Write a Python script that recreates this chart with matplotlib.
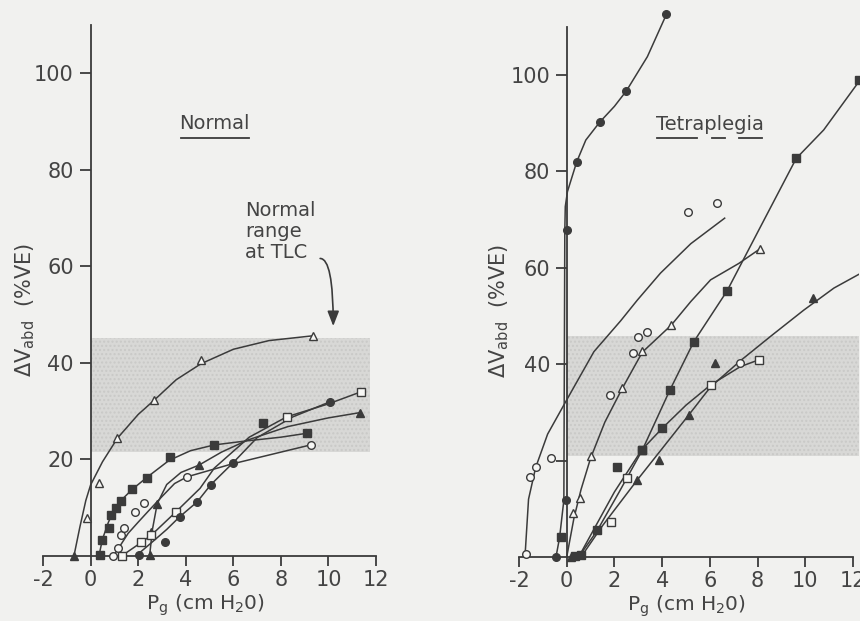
import matplotlib.pyplot as plt
from matplotlib.patches import Rectangle

plt.rcParams['font.family'] = ['DejaVu Sans']
plt.rcParams['axes.unicode_minus'] = False
plt.rcParams['mathtext.default'] = 'regular'

INK = '#3b3b3b'
PAPER = '#f1f1ef'
BAND = '#d8d8d6'
TXT = '#444444'

x_ticks = [-2, 0, 2, 4, 6, 8, 10, 12]
y_ticks = [20, 40, 60, 80, 100]
left_ylabels = ['20', '40', '60', '80', '100']
right_ylabels = ['', '40', '60', '80', '100']

# normal range at TLC (shaded band): x0, x1, y0, y1
n_band = [0, 11.76, 21.5, 45.2]
t_band = [0, 12.4, 21.0, 45.8]

# ---------------- Normal ----------------
# open triangles
n_tri_o_x = [-0.17, 0.35, 1.13, 2.66, 4.64, 9.36]
n_tri_o_y = [7.9, 15.1, 24.4, 32.2, 40.6, 45.6]
n_tri_o_cx = [-0.7, -0.45, -0.2, 0, 0.5, 1.13, 2.0, 2.66, 3.6, 4.64, 6.0, 7.5, 9.36]
n_tri_o_cy = [0, 6, 11.5, 14.7, 19.5, 24.4, 29.3, 32.2, 36.5, 39.8, 42.8, 44.6, 45.6]
# filled squares
n_sq_f_x = [0.39, 0.49, 0.78, 0.85, 1.06, 1.27, 1.74, 2.37, 3.32, 5.2, 9.08, 7.25]
n_sq_f_y = [0.2, 3.3, 5.9, 8.5, 9.9, 11.4, 13.8, 16.1, 20.4, 23.0, 25.5, 27.6]
n_sq_f_cx = [0.35, 0.5, 0.75, 1.0, 1.3, 1.75, 2.4, 3.3, 4.2, 5.2, 6.5, 8.0, 9.08]
n_sq_f_cy = [0, 3.5, 7.0, 9.6, 11.6, 13.8, 16.4, 19.8, 21.8, 23.0, 23.8, 24.6, 25.4]
# open circles
n_ci_o_x = [0.95, 1.16, 1.27, 1.41, 1.85, 2.24, 4.06, 9.25]
n_ci_o_y = [0, 1.6, 4.3, 5.7, 9.2, 11.0, 16.4, 23.0]
n_ci_o_cx = [0.95, 1.2, 1.58, 2.0, 2.41, 3.0, 3.53, 4.06, 5.9, 9.25]
n_ci_o_cy = [0, 1.8, 4.7, 7.0, 9.2, 12.3, 15.0, 16.4, 19.0, 23.0]
# filled triangles
n_tri_f_x = [-0.7, 2.48, 2.55, 2.78, 4.55, 11.34]
n_tri_f_y = [0, 0.2, 5.0, 10.8, 18.8, 29.7]
n_tri_f_cx = [2.48, 2.6, 2.8, 3.2, 3.8, 4.55, 5.5, 6.6, 8.3, 10.0, 11.34]
n_tri_f_cy = [0, 5.5, 10.8, 14.8, 17.3, 18.8, 21.5, 24.0, 26.8, 28.6, 29.7]
# open squares
n_sq_o_x = [1.3, 2.13, 2.55, 3.6, 8.24, 11.37]
n_sq_o_y = [0, 2.8, 4.3, 9.2, 28.8, 34.0]
n_sq_o_cx = [1.3, 2.13, 2.55, 3.6, 4.6, 5.2, 6.67, 8.24, 10.0, 11.37]
n_sq_o_cy = [0, 2.8, 4.3, 9.2, 14.0, 18.2, 24.6, 28.8, 31.5, 34.0]
# filled circles
n_ci_f_x = [2.02, 3.11, 3.74, 4.48, 5.06, 5.97, 10.05]
n_ci_f_y = [0.2, 2.8, 8.1, 11.2, 14.8, 19.2, 31.9]
n_ci_f_cx = [1.9, 2.5, 3.2, 3.74, 4.48, 5.06, 5.97, 7.0, 8.5, 10.05]
n_ci_f_cy = [0, 2.5, 5.5, 8.1, 11.2, 14.8, 19.2, 24.5, 28.8, 31.9]

# ---------------- Tetraplegia ----------------
# filled circles (steep, top)
t_ci_f_x = [-0.45, -0.05, 0.0, 0.42, 1.38, 2.5, 4.18]
t_ci_f_y = [0, 11.8, 67.8, 82.0, 90.2, 96.7, 112.6]
t_ci_f_cx = [-0.45, -0.3, -0.12, -0.1, -0.08, -0.06, 0.03, 0.42, 0.8, 1.38, 2.0, 2.5, 3.38, 4.18]
t_ci_f_cy = [0, 4, 11.8, 40, 67.8, 72.7, 75.8, 82, 86.5, 90.2, 93.5, 96.7, 103.8, 112.6]
t_sq_extra_x = [-0.25]
t_sq_extra_y = [4.2]
# open circles
t_ci_o_x = [-1.72, -1.54, -1.3, -0.67, 1.81, 2.77, 2.98, 3.37, 5.07, 6.28]
t_ci_o_y = [0.6, 16.5, 18.6, 20.5, 33.6, 42.4, 45.7, 46.6, 71.6, 73.5]
t_ci_o_cx = [-1.75, -1.6, -1.3, -0.8, 0, 1.14, 2.26, 2.96, 3.93, 5.2, 6.62]
t_ci_o_cy = [0, 12, 18.6, 25.5, 32.6, 42.6, 49, 53.3, 58.9, 65, 70.3]
# open triangles
t_tri_o_x = [0.28, 0.56, 1.0, 2.33, 3.17, 4.38, 8.12]
t_tri_o_y = [9.1, 12.2, 21.0, 35.0, 42.8, 48.1, 64.0]
t_tri_o_cx = [0, 0.3, 0.6, 1.0, 1.6, 2.33, 3.17, 4.38, 5.2, 6.03, 7.21, 8.12]
t_tri_o_cy = [0, 8, 14, 20.5, 28, 35, 42.5, 48.1, 53.0, 57.5, 60.9, 64]
# filled squares (steep)
t_sq_f_x = [0.35, 0.6, 1.28, 2.12, 3.17, 4.32, 5.33, 6.72, 9.62, 12.25]
t_sq_f_y = [0.2, 0.5, 5.5, 18.6, 22.2, 34.6, 44.7, 55.2, 82.7, 99.0]
t_sq_f_cx = [0.5, 1.28, 2.2, 3.17, 4.32, 5.33, 6.72, 8.12, 9.62, 10.77, 12.3]
t_sq_f_cy = [0, 5.5, 13.5, 22.2, 34.6, 44.7, 55.2, 68.5, 82.7, 88.6, 99]
# squares (less steep)
t_sq2_f_x = [3.14, 4.0]
t_sq2_f_y = [22.2, 26.7]
t_sq_o_x = [1.84, 2.54, 6.03, 8.05]
t_sq_o_y = [7.3, 16.3, 35.7, 40.9]
t_sq_o_cx = [0.5, 1.0, 2.0, 3.14, 4.0, 5.0, 6.03, 7.28, 8.05]
t_sq_o_cy = [0, 4.5, 13.5, 22.2, 26.7, 31.5, 35.7, 39.5, 40.9]
t_half_x = [7.28]
t_half_y = [40.2]
# filled triangles
t_tri_f_x = [0.2, 2.96, 3.86, 5.12, 6.23, 10.32]
t_tri_f_y = [0, 16.0, 20.1, 29.5, 40.2, 53.7]
t_tri_f_cx = [0.6, 1.5, 2.96, 4.0, 5.12, 6.03, 7.3, 8.6, 9.93, 11.2, 12.3]
t_tri_f_cy = [0, 6.5, 16, 22.5, 29.5, 35.3, 40.8, 46, 51.2, 55.8, 58.8]


def curve(ax, x, y):
    ax.plot(x, y, color=INK, lw=1.1, zorder=3, clip_on=True)


def marks(ax, x, y, m, filled, ms=5.5):
    fc = INK if filled else '#f7f7f5'
    ax.plot(x, y, ls='none', marker=m, ms=ms, mfc=fc, mec=INK, mew=1.0,
            zorder=4, clip_on=False)


def setup(ax, band, ylabels, xmax):
    ax.set_facecolor('none')
    ax.set_xlim(-2, xmax)
    ax.set_ylim(0, 113)
    for s in ['top', 'right']:
        ax.spines[s].set_visible(False)
    ax.spines['left'].set_position(('data', 0))
    ax.spines['left'].set_bounds(0, 110)
    ax.spines['bottom'].set_bounds(-2, 12)
    for s in ['left', 'bottom']:
        ax.spines[s].set_color(INK)
        ax.spines[s].set_linewidth(1.3)
    ax.set_xticks(x_ticks)
    ax.set_xticklabels([str(v) for v in x_ticks])
    ax.set_yticks(y_ticks)
    ax.set_yticklabels(ylabels)
    ax.tick_params(axis='both', colors=INK, labelcolor=TXT, width=1.3,
                   labelsize=15, pad=4)
    ax.tick_params(axis='x', length=7, pad=3)
    ax.tick_params(axis='y', length=8)
    ax.add_patch(Rectangle((band[0], band[2]), band[1] - band[0], band[3] - band[2],
                           facecolor=BAND, edgecolor='#c9c9c7', hatch='....',
                           lw=0, zorder=0))


fig = plt.figure(figsize=(8.6, 6.21), dpi=100)
fig.patch.set_facecolor(PAPER)

ylab = r'$\Delta$V$_{abd}$  (%VE)'
xlab = r'P$_{g}$ (cm H$_{2}$0)'

# ---- left panel ----
ax1 = fig.add_axes([43 / 860, 65 / 621, 14 * 23.79 / 860, 113 * 4.83 / 621])
setup(ax1, n_band, left_ylabels, 12)
curve(ax1, n_tri_o_cx, n_tri_o_cy)
curve(ax1, n_sq_f_cx, n_sq_f_cy)
curve(ax1, n_ci_o_cx, n_ci_o_cy)
curve(ax1, n_tri_f_cx, n_tri_f_cy)
curve(ax1, n_sq_o_cx, n_sq_o_cy)
curve(ax1, n_ci_f_cx, n_ci_f_cy)
marks(ax1, n_tri_o_x, n_tri_o_y, '^', False)
marks(ax1, n_sq_f_x, n_sq_f_y, 's', True)
marks(ax1, n_ci_o_x, n_ci_o_y, 'o', False)
marks(ax1, n_tri_f_x, n_tri_f_y, '^', True)
marks(ax1, n_sq_o_x, n_sq_o_y, 's', False)
marks(ax1, n_ci_f_x, n_ci_f_y, 'o', True)

ax1.text(-2.75, 51, ylab, rotation=90, ha='center', va='center', fontsize=15,
         color=TXT)
ax1.text(4.85, -7.6, xlab, ha='center', va='top', fontsize=14.5, color=TXT)
ax1.text(5.2, 89.5, 'Normal', ha='center', va='center', fontsize=14, color=TXT)
ax1.plot([3.8, 6.65], [86.6, 86.6], color=INK, lw=1.3)
ax1.text(6.5, 73.5, 'Normal\nrange\nat TLC', ha='left', va='top', fontsize=14,
         color=TXT, linespacing=1.15)
ax1.annotate('', xy=(10.2, 47.6), xytext=(9.65, 61.6),
             arrowprops=dict(arrowstyle='-|>,head_width=0.35,head_length=0.9',
                             connectionstyle='angle3,angleA=0,angleB=90',
                             color=INK, lw=1.2, shrinkA=0, shrinkB=0))

# ---- right panel ----
ax2 = fig.add_axes([519 / 860, 64 / 621, 14.25 * 23.86 / 860, 113 * 4.82 / 621])
setup(ax2, t_band, right_ylabels, 12.25)
curve(ax2, t_ci_f_cx, t_ci_f_cy)
curve(ax2, t_ci_o_cx, t_ci_o_cy)
curve(ax2, t_tri_o_cx, t_tri_o_cy)
curve(ax2, t_sq_f_cx, t_sq_f_cy)
curve(ax2, t_sq_o_cx, t_sq_o_cy)
curve(ax2, t_tri_f_cx, t_tri_f_cy)
marks(ax2, t_ci_f_x, t_ci_f_y, 'o', True)
marks(ax2, t_sq_extra_x, t_sq_extra_y, 's', True)
marks(ax2, t_ci_o_x, t_ci_o_y, 'o', False)
marks(ax2, t_tri_o_x, t_tri_o_y, '^', False)
marks(ax2, t_sq_f_x, t_sq_f_y, 's', True)
marks(ax2, t_sq2_f_x, t_sq2_f_y, 's', True)
marks(ax2, t_sq_o_x, t_sq_o_y, 's', False)
marks(ax2, t_half_x, t_half_y, 'o', False)
marks(ax2, t_tri_f_x, t_tri_f_y, '^', True)

ax2.text(-2.85, 51, ylab, rotation=90, ha='center', va='center', fontsize=15,
         color=TXT)
ax2.text(5.03, -7.6, xlab, ha='center', va='top', fontsize=14.5, color=TXT)
ax2.text(6.0, 89.8, 'Tetraplegia', ha='center', va='center', fontsize=14,
         color=TXT)
for x0, x1 in [(3.77, 5.48), (6.1, 6.65), (7.24, 8.2)]:
    ax2.plot([x0, x1], [87.0, 87.0], color=INK, lw=1.3)

fig.savefig('out.png', dpi=100, facecolor=PAPER)
